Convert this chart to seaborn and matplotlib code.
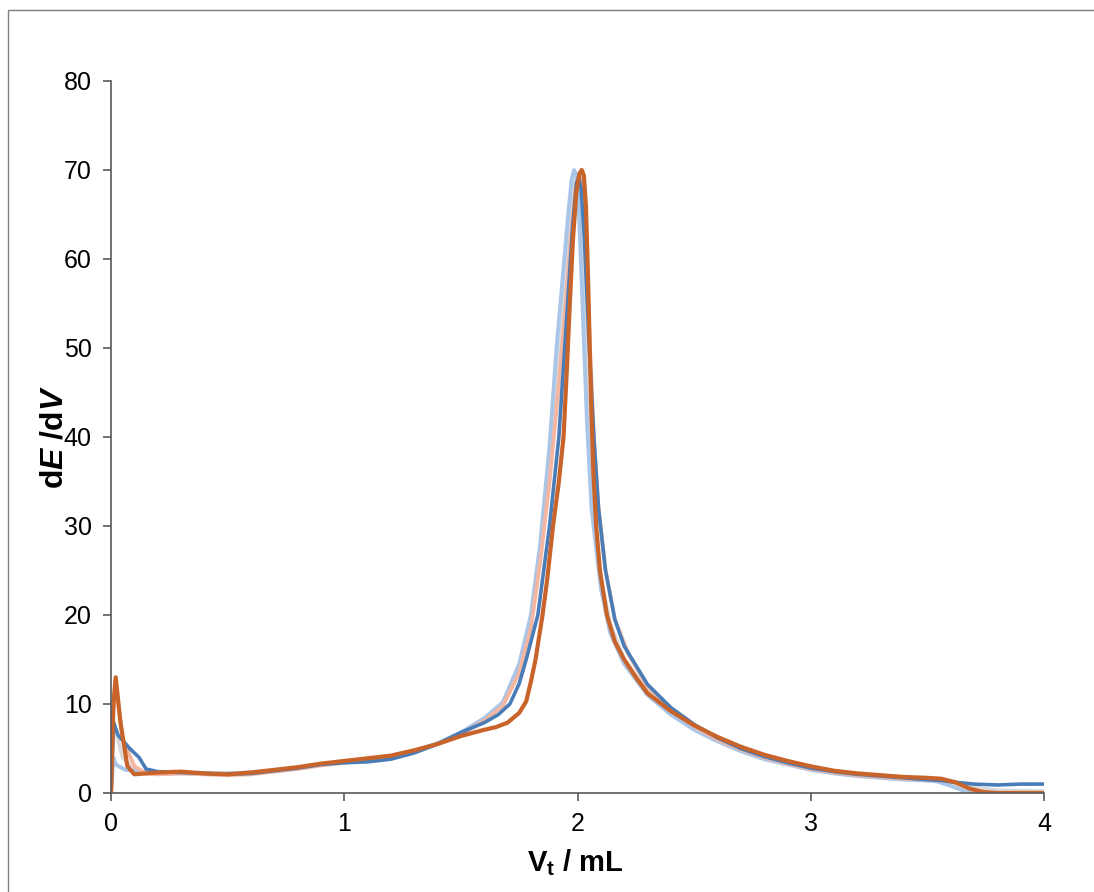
import numpy as np
import pandas as pd
import matplotlib
matplotlib.use("Agg")
import matplotlib.pyplot as plt
import seaborn as sns
from matplotlib.patches import Rectangle

# titrant volume / mL and first derivative dE/dV, five replicate runs
x_gray = [0, 0.01, 0.05, 0.1, 0.2, 0.3, 0.4, 0.5, 0.6, 0.7, 0.8, 0.9, 1.0, 1.1, 1.2, 1.3, 1.4, 1.5, 1.6, 1.68,
          1.75, 1.8, 1.84, 1.88, 1.92, 1.95, 1.97, 1.98, 1.99, 2.0, 2.02, 2.04, 2.07, 2.1, 2.14, 2.2, 2.3, 2.4,
          2.5, 2.6, 2.7, 2.8, 2.9, 3.0, 3.1, 3.2, 3.3, 3.4, 3.5, 3.56, 3.62, 3.7, 3.8, 4.0]
y_gray = [0, 8, 4, 2.5, 2.3, 2.3, 2.2, 2.2, 2.3, 2.5, 2.8, 3.2, 3.5, 3.7, 4.0, 4.6, 5.5, 6.7, 8.2, 10,
          14, 19.5, 27, 37, 48, 58, 65, 68, 69, 68, 60, 45, 32, 24, 19, 15, 11.5, 9.2,
          7.4, 6.0, 4.9, 4.0, 3.3, 2.7, 2.3, 2.0, 1.8, 1.6, 1.4, 1.3, 1.0, 0.6, 0.3, 0.2]

x_lblue = [0, 0.01, 0.02, 0.06, 0.2, 0.3, 0.4, 0.5, 0.6, 0.7, 0.8, 0.9, 1.0, 1.1, 1.2, 1.3, 1.4, 1.5, 1.6, 1.68,
           1.75, 1.8, 1.84, 1.88, 1.91, 1.94, 1.96, 1.975, 1.985, 1.995, 2.005, 2.02, 2.04, 2.06, 2.1, 2.14,
           2.2, 2.3, 2.4, 2.5, 2.6, 2.7, 2.8, 2.9, 3.0, 3.1, 3.2, 3.3, 3.4, 3.5, 3.54, 3.6, 3.66, 3.7]
y_lblue = [0, 4, 3.2, 2.6, 2.2, 2.2, 2.2, 2.2, 2.3, 2.5, 2.8, 3.2, 3.5, 3.7, 4.0, 4.7, 5.6, 6.8, 8.4, 10.2,
           14.5, 20, 28, 39, 50, 59, 65, 69, 70, 69.5, 66, 56, 42, 32, 23, 18,
           14.5, 11, 8.8, 7.1, 5.8, 4.7, 3.8, 3.2, 2.6, 2.2, 1.9, 1.7, 1.5, 1.4, 1.3, 0.8, 0.2, 0]

x_salmon = [0, 0.01, 0.02, 0.05, 0.1, 0.15, 0.2, 0.3, 0.4, 0.5, 0.6, 0.7, 0.8, 0.9, 1.0, 1.1, 1.2, 1.3, 1.4, 1.5,
            1.6, 1.68, 1.75, 1.8, 1.84, 1.88, 1.92, 1.95, 1.97, 1.99, 2.0, 2.01, 2.02, 2.035, 2.05, 2.07, 2.09,
            2.12, 2.16, 2.22, 2.3, 2.4, 2.5, 2.6, 2.7, 2.8, 2.9, 3.0, 3.1, 3.2, 3.3, 3.4, 3.5, 3.56, 3.62, 3.7,
            3.78, 4.0]
y_salmon = [0, 9, 12.5, 6, 3, 2.2, 2.1, 2.2, 2.1, 2.0, 2.1, 2.4, 2.7, 3.1, 3.4, 3.7, 4.0, 4.7, 5.5, 6.6,
            8.1, 9.8, 13.5, 18.5, 26, 35, 46, 55, 62, 67.5, 69, 69.3, 68.5, 63, 52, 40, 32,
            25, 19.5, 15.5, 12, 9.4, 7.5, 6.0, 4.9, 4.0, 3.3, 2.7, 2.3, 2.0, 1.8, 1.6, 1.5, 1.4, 1.2, 0.3,
            0, 0]

x_blue = [0, 0.01, 0.03, 0.08, 0.12, 0.15, 0.2, 0.3, 0.4, 0.5, 0.6, 0.7, 0.8, 0.9, 1.0, 1.1, 1.2, 1.3, 1.4, 1.5,
          1.6, 1.66, 1.71, 1.75, 1.78, 1.83, 1.88, 1.92, 1.945, 1.965, 1.98, 1.995, 2.005, 2.015, 2.03, 2.05,
          2.07, 2.09, 2.12, 2.16, 2.2, 2.3, 2.4, 2.5, 2.6, 2.7, 2.8, 2.9, 3.0, 3.1, 3.2, 3.3, 3.4, 3.5, 3.56,
          3.62, 3.7, 3.8, 3.9, 4.0]
y_blue = [0, 8, 6.5, 5, 4, 2.7, 2.4, 2.3, 2.2, 2.1, 2.2, 2.5, 2.8, 3.2, 3.4, 3.5, 3.8, 4.5, 5.5, 6.8,
          7.9, 8.8, 10, 12.3, 15, 20, 30, 40, 50, 58, 64, 68.5, 69.2, 68, 62, 50,
          40, 32, 25, 19.5, 16.5, 12.2, 9.6, 7.7, 6.2, 5.0, 4.1, 3.4, 2.8, 2.4, 2.1, 1.9, 1.7, 1.5, 1.4,
          1.2, 1.0, 0.9, 1.0, 1.0]

x_orange = [0, 0.01, 0.02, 0.04, 0.07, 0.1, 0.2, 0.3, 0.4, 0.5, 0.6, 0.7, 0.8, 0.9, 1.0, 1.1, 1.2, 1.3, 1.4, 1.5,
            1.6, 1.65, 1.7, 1.75, 1.78, 1.8, 1.82, 1.85, 1.87, 1.895, 1.92, 1.94, 1.955, 1.967, 1.98, 1.995,
            2.008, 2.018, 2.027, 2.036, 2.045, 2.058, 2.068, 2.08, 2.096, 2.126, 2.16, 2.2, 2.25, 2.3, 2.4,
            2.5, 2.6, 2.7, 2.8, 2.9, 3.0, 3.1, 3.2, 3.3, 3.4, 3.5, 3.56, 3.62, 3.68, 3.74, 3.8, 4.0]
y_orange = [0, 10, 13, 8, 3, 2.1, 2.3, 2.4, 2.2, 2.1, 2.3, 2.6, 2.9, 3.3, 3.6, 3.9, 4.2, 4.8, 5.5, 6.4,
            7.1, 7.4, 7.9, 9, 10.3, 12.5, 15, 20, 24, 30, 35, 40, 48, 55, 62, 67.5,
            69.6, 70, 69.4, 66, 58, 44, 36, 30, 25, 20, 17, 15, 13, 11.2, 9.2,
            7.6, 6.3, 5.2, 4.3, 3.6, 3.0, 2.5, 2.2, 2.0, 1.8, 1.7, 1.6, 1.2, 0.5, 0.1, 0, 0]

runs = ["run1", "run2", "run3", "run4", "run5"]
colors = ["#d9d9d9", "#a9c5e8", "#f4b6a0", "#4a7db8", "#c8632a"]
widths = [2.8, 2.8, 2.8, 2.6, 3.0]

frames = []
for name, xs, ys in zip(runs, [x_gray, x_lblue, x_salmon, x_blue, x_orange],
                        [y_gray, y_lblue, y_salmon, y_blue, y_orange]):
    frames.append(pd.DataFrame({"V": xs, "dEdV": ys, "run": name}))
df = pd.concat(frames, ignore_index=True)

sns.set_style("white")
plt.rcParams["font.family"] = ["Liberation Sans", "DejaVu Sans"]
plt.rcParams["text.color"] = "black"
plt.rcParams["axes.labelcolor"] = "black"
plt.rcParams["xtick.color"] = "black"
plt.rcParams["ytick.color"] = "black"
plt.rcParams["mathtext.fontset"] = "custom"
plt.rcParams["mathtext.rm"] = "Liberation Sans"
plt.rcParams["mathtext.it"] = "Liberation Sans:italic"
plt.rcParams["mathtext.bf"] = "Liberation Sans:bold"
plt.rcParams["mathtext.bfit"] = "Liberation Sans:bold:italic"

fig = plt.figure(figsize=(10.94, 8.92), dpi=100)
ax = fig.add_axes([0.1015, 0.111, 0.8528, 0.7982])

sns.lineplot(data=df, x="V", y="dEdV", hue="run", hue_order=runs, palette=colors,
             estimator=None, sort=False, linewidth=2.6, legend=False, ax=ax)
for line, w in zip(ax.get_lines(), widths):
    line.set_linewidth(w)
    line.set_solid_joinstyle("round")

ax.set_xlim(0, 4)
ax.set_ylim(0, 80)
ax.set_xticks([0, 1, 2, 3, 4])
ax.set_yticks(range(0, 81, 10))
ax.tick_params(axis="both", labelsize=18, direction="out", length=6, width=1.2,
               color="#595959", labelcolor="black", left=True, bottom=True, pad=8)
for s in ["top", "right"]:
    ax.spines[s].set_visible(False)
for s in ["left", "bottom"]:
    ax.spines[s].set_color("#595959")
    ax.spines[s].set_linewidth(1.2)

ax.set_xlabel(r"$\mathbf{V_t}$ / mL", fontsize=21, fontweight="bold")
ax.set_ylabel(r"d$\mathbfit{E}$ /d$\mathbfit{V}$", fontsize=23, fontweight="bold")
ax.xaxis.set_label_coords(0.497, -0.076)
ax.yaxis.set_label_coords(-0.044, 0.5)

# outer chart-area border
fig.patches.append(Rectangle((8 / 1094, -0.1), 1.2, 0.9888 + 0.1, transform=fig.transFigure,
                             fill=False, edgecolor="#7f7f7f", linewidth=1.0, clip_on=False))

fig.savefig("out.png", dpi=100)
